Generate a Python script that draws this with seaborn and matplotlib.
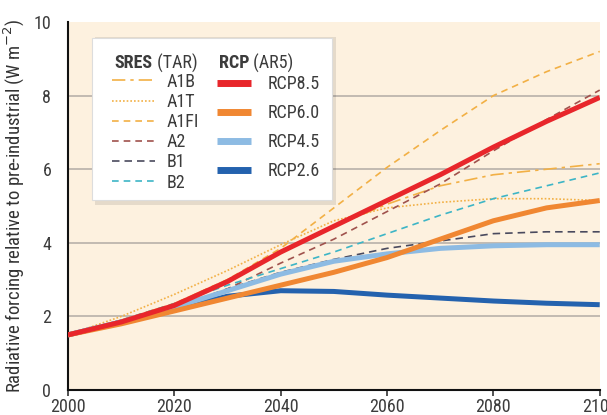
import matplotlib
matplotlib.use("Agg")
import matplotlib.pyplot as plt
from matplotlib.lines import Line2D
from matplotlib.patches import Rectangle
from matplotlib import font_manager
import seaborn as sns

# data (W m-2)
years = [2000, 2010, 2020, 2030, 2040, 2050, 2060, 2070, 2080, 2090, 2100]

a1b = [1.5, 1.9, 2.35, 3.0, 3.75, 4.45, 5.05, 5.55, 5.85, 6.0, 6.15]
a1t = [1.5, 2.0, 2.6, 3.25, 3.95, 4.6, 4.95, 5.1, 5.2, 5.2, 5.15]
a1fi = [1.5, 1.9, 2.35, 3.0, 3.85, 4.95, 6.05, 7.05, 8.0, 8.65, 9.2]
a2 = [1.5, 1.85, 2.2, 2.75, 3.45, 4.1, 4.85, 5.6, 6.5, 7.35, 8.15]
b1 = [1.5, 1.85, 2.25, 2.75, 3.2, 3.55, 3.85, 4.05, 4.25, 4.3, 4.3]
b2 = [1.5, 1.9, 2.35, 2.85, 3.3, 3.75, 4.25, 4.75, 5.2, 5.55, 5.9]

rcp85 = [1.5, 1.85, 2.3, 2.95, 3.75, 4.45, 5.15, 5.85, 6.6, 7.3, 7.95]
rcp60 = [1.5, 1.8, 2.15, 2.5, 2.85, 3.2, 3.6, 4.1, 4.6, 4.95, 5.15]
rcp45 = [1.5, 1.85, 2.25, 2.7, 3.15, 3.5, 3.7, 3.85, 3.92, 3.95, 3.95]
rcp26 = [1.5, 1.85, 2.2, 2.55, 2.7, 2.68, 2.58, 2.5, 2.42, 2.36, 2.32]

sres_labels = ["A1B", "A1T", "A1FI", "A2", "B1", "B2"]
rcp_labels = ["RCP8.5", "RCP6.0", "RCP4.5", "RCP2.6"]

sns.set_style("white")
# narrow font if there is one
installed = {f.name for f in font_manager.fontManager.ttflist}
fams = [f for f in ["Liberation Sans Narrow", "DejaVu Sans Condensed", "Roboto Condensed",
                    "Open Sans Condensed", "Lato"] if f in installed]
plt.rcParams["font.family"] = fams[:1] + ["DejaVu Sans"]

txt = "#3C3C3C"
fs = 13

# colours / styles
sres = [
    (a1b, "#F2B045", (8, 3, 2, 3)),
    (a1t, "#F2B045", (1, 1.2)),
    (a1fi, "#F2B045", (4, 3)),
    (a2, "#A0524D", (4, 3)),
    (b1, "#4A4A5E", (4.5, 3)),
    (b2, "#3DB5C6", (4, 3)),
]
rcp = [
    (rcp85, "#E8262B"),
    (rcp60, "#F08732"),
    (rcp45, "#8DBBE3"),
    (rcp26, "#2462AE"),
]

fig = plt.figure(figsize=(6.07, 4.15), dpi=100)
ax = fig.add_axes([0.112, 0.06, 0.876, 0.887])
ax.set_facecolor("#FDF1DF")

for y in [2, 4, 6, 8]:
    ax.axhline(y, color="#BDB6AE", lw=1.3, zorder=1)

for vals, col, dash in sres:
    sns.lineplot(x=years, y=vals, ax=ax, color=col, lw=1.2, zorder=3).lines[-1].set_dashes(dash)
for vals, col in rcp[::-1]:
    sns.lineplot(x=years, y=vals, ax=ax, color=col, lw=3.6, zorder=4,
                 solid_capstyle="butt")

ax.set_xlim(2000, 2100)
ax.set_ylim(0, 10)
ax.set_xticks(range(2000, 2101, 20))
ax.set_yticks(range(0, 11, 2))
ax.tick_params(axis="x", length=4, width=1.2, direction="out", colors="#333333",
               labelcolor=txt, labelsize=fs, pad=2, bottom=True)
ax.tick_params(axis="y", length=0, labelcolor=txt, labelsize=fs, pad=12)
for s in ["top", "right"]:
    ax.spines[s].set_visible(False)
for s in ["left", "bottom"]:
    ax.spines[s].set_color("#111111")
    ax.spines[s].set_linewidth(1.5)

ax.set_ylabel("Radiative forcing relative to pre-industrial (W m$^{-2}$)",
              fontsize=13.5, color="#333333", labelpad=5)

# legend box with shadow
ax.add_patch(Rectangle((0.051, 0.503), 0.453, 0.455, transform=ax.transAxes,
                       facecolor="#00000018", edgecolor="none", zorder=5))
ax.add_patch(Rectangle((0.045, 0.516), 0.451, 0.441, transform=ax.transAxes,
                       facecolor="white", edgecolor="#DDDDDD", lw=0.8, zorder=6))

h1 = [Line2D([], [], color=c, lw=1.2, dashes=d) for _, c, d in sres]
leg1 = ax.legend(h1, sres_labels, loc="upper left", bbox_to_anchor=(0.083, 0.862),
                 frameon=False, fontsize=fs, handlelength=2.4, handletextpad=0.6,
                 labelspacing=0.12, borderpad=0, borderaxespad=0, labelcolor=txt)
leg1.set_zorder(7)
ax.add_artist(leg1)

h2 = [Line2D([], [], color=c, lw=5, solid_capstyle="butt") for _, c in rcp]
leg2 = ax.legend(h2, rcp_labels, loc="upper left", bbox_to_anchor=(0.28, 0.855),
                 frameon=False, fontsize=fs, handlelength=1.9, handletextpad=0.9,
                 labelspacing=0.6, borderpad=0, borderaxespad=0, labelcolor=txt)
leg2.set_zorder(7)

for x, bold, rest in [(0.088, "SRES", " (TAR)"), (0.284, "RCP", " (AR5)")]:
    t = ax.text(x, 0.888, bold, transform=ax.transAxes, fontsize=fs, fontweight="bold",
                color=txt, va="center", zorder=8)
    ax.annotate(rest, xy=(1, 0.5), xycoords=t, va="center", fontsize=fs,
                color=txt, zorder=8)

fig.savefig("out.png", dpi=100)
